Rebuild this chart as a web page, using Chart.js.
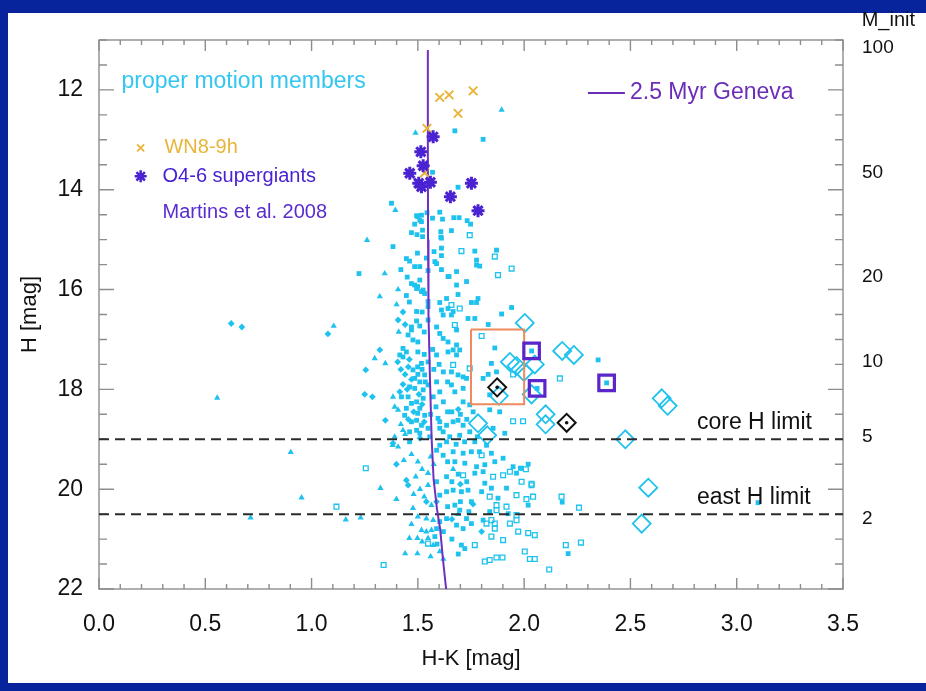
<!DOCTYPE html>
<html>
<head>
<meta charset="utf-8">
<script src="https://cdn.jsdelivr.net/npm/chart.js@4.4.1/dist/chart.umd.min.js"></script>
<style>
html, body { margin: 0; padding: 0; width: 926px; height: 691px; overflow: hidden; background: #07249c; }
#panel { position: absolute; left: 8px; top: 13px; width: 918px; height: 670px; background: #fff; }
#wrap { position: absolute; left: 0; top: 0; width: 926px; height: 691px; }
</style>
</head>
<body>
<div id="panel"></div>
<div id="wrap"><canvas id="cmd" width="926" height="691"></canvas></div>
<script>
// axis ticks
const xTicks = [0, 0.5, 1, 1.5, 2, 2.5, 3, 3.5];
const yTicks = [12, 14, 16, 18, 20, 22];
const massLabels = ['100', '50', '20', '10', '5', '2'];
const massH = [11.15, 13.66, 15.75, 17.45, 18.95, 20.6];

// proper motion members, [H-K, H]
const filledSquares = [
  [1.674,12.82],[1.807,12.99],[1.569,13.65],[1.689,13.95],[1.376,14.27],
  [1.494,14.52],[1.517,14.51],[1.543,14.46],[1.603,14.45],[1.569,14.57],[1.616,14.59],[1.669,14.56],[1.694,14.56],
  [1.732,14.62],[1.748,14.69],[1.485,14.69],[1.517,14.64],[1.47,14.86],[1.522,14.81],[1.608,14.84],[1.608,14.95],
  [1.658,14.82],[1.509,14.61],[1.522,14.94],[1.499,14.54],[1.611,14.97],[1.496,14.9],
  [1.383,15.14],[1.498,15.27],[1.576,15.24],[1.611,15.17],[1.611,15.32],[1.768,15.23],[1.87,15.21],[1.446,15.38],
  [1.776,15.41],[1.776,15.51],[1.791,15.53],[1.485,15.54],[1.548,15.62],[1.588,15.48],[1.611,15.6],[1.647,15.74],
  [1.682,15.64],[1.461,15.43],[1.509,15.54],[1.54,15.37],[1.58,15.44],[1.223,15.68],
  [1.47,15.88],[1.485,15.91],[1.499,15.94],[1.509,15.81],[1.525,16.01],[1.532,16.08],[1.517,16.04],[1.494,15.98],
  [1.446,16.12],[1.642,15.74],[1.729,15.84],[1.682,15.91],[1.689,16.1],[1.783,16.18],[1.752,16.26],[1.776,16.26],
  [1.603,16.26],[1.635,16.18],[1.548,16.24],[1.42,15.6],[1.45,15.75],[1.46,16.25],[1.52,16.45],
  [1.611,16.41],[1.619,16.51],[1.642,16.38],[1.658,16.51],[1.666,16.44],[1.941,16.36],[1.894,16.49],[1.736,16.58],
  [1.768,16.58],[1.831,16.7],[1.682,16.81],[1.494,16.44],[1.494,16.63],[1.509,16.73],[1.47,16.75],[1.454,16.91],
  [1.47,16.81],[1.477,17.01],[1.548,16.34],[1.548,16.61],[1.588,16.75],[1.603,16.88],[1.619,16.98],[1.642,17.05],
  [1.53,16.85],[1.5,17.05],[1.57,17.2],[1.6,17.5],[1.62,17.65],[1.575,17.6],[1.64,17.85],
  [1.588,17.31],[1.642,17.25],[1.43,17.18],[1.446,17.25],[1.415,17.31],[1.43,17.35],[1.477,17.61],[1.499,17.55],
  [1.517,17.48],[1.485,17.78],[1.509,17.85],[1.532,17.71],[1.548,17.45],[1.461,17.95],[1.485,17.98],[1.525,18.01],
  [1.548,17.91],[1.588,17.85],[1.603,18.05],[1.862,17.17],[1.682,17.11],[1.666,17.21],[1.697,17.21],[1.682,17.31],
  [1.846,17.48],[1.87,17.65],[1.831,17.7],[1.689,17.71],[1.713,17.75],[1.729,17.78],[1.807,17.78],[1.658,17.91],
  [1.674,18.05],[1.713,17.98],[1.838,18.11],[1.658,17.65],[2.348,17.41],[2.035,17.23],[2.061,17.98],[2.388,17.87],
  [1.5,17.7],[1.52,17.6],[1.535,17.85],[1.53,17.3],[1.5,17.25],[1.62,18.25],[1.585,18.35],[1.64,18.45],[1.56,18.5],
  [1.423,18.15],[1.454,18.15],[1.572,18.15],[1.446,18.38],[1.47,18.28],[1.494,18.25],[1.509,18.38],[1.525,18.18],
  [1.499,18.48],[1.532,18.52],[1.438,18.52],[1.47,18.65],[1.494,18.62],[1.517,18.72],[1.461,18.85],[1.494,18.82],
  [1.509,18.88],[1.548,18.78],[1.603,18.65],[1.603,18.78],[1.635,18.72],[1.595,18.58],[1.619,18.85],[1.556,18.95],
  [1.713,18.25],[1.744,18.31],[1.838,18.41],[1.666,18.65],[1.689,18.62],[1.713,18.72],[1.744,18.85],[1.854,18.78],
  [1.697,18.92],[1.768,19.05],[1.823,19.12],[1.885,18.45],[1.909,18.88],
  [1.66,18.45],[1.7,18.5],[1.73,18.6],[1.76,18.45],[1.78,18.95],[1.65,18.95],[1.68,19.1],[1.72,19.05],[1.79,19.25],
  [1.461,19.05],[1.603,19.12],[1.635,19.05],[1.588,19.22],[1.619,19.32],[1.666,19.25],[1.713,19.28],[1.752,19.25],
  [1.846,19.28],[1.674,19.45],[1.721,19.48],[1.776,19.55],[1.815,19.51],[1.862,19.45],[1.901,19.38],[1.948,19.55],
  [1.988,19.58],[1.768,19.68],[1.807,19.65],[1.964,19.68],[2.019,19.5],[1.982,19.58],[1.588,19.85],[1.635,19.75],
  [1.64,19.45],[1.69,19.7],[1.73,19.85],[1.66,19.85],[1.7,20.25],[1.64,20.35],[1.74,20.45],
  [1.603,20.12],[1.635,20.05],[1.666,20.02],[1.705,20.05],[1.736,20.02],[1.8,20.05],[1.815,19.88],[1.846,19.98],
  [1.917,19.98],[1.877,20.18],[1.752,20.25],[1.674,20.32],[1.697,20.42],[1.838,20.45],[1.925,20.49],[1.729,20.59],
  [1.807,20.62],[1.752,20.69],[1.682,20.72],[1.713,20.79],[1.603,20.65],[1.635,20.59],[1.588,20.79],[1.58,20.95],
  [1.705,21.12],[1.721,21.19],[2.019,20.32],[2.179,20.26],[2.207,21.29],[3.1,20.27],[1.62,20.85],[1.66,21.0],
  [1.69,21.3],[1.59,21.1]
];
const triangles = [
  [1.894,12.4],[1.489,12.86],[1.394,14.41],[1.261,15.01],[1.344,15.68],[1.321,16.14],[1.407,16.0],[1.104,16.73],
  [1.297,17.38],[1.347,17.48],[0.556,18.17],[1.383,18.15],[1.391,18.95],[0.902,19.26],[1.434,19.42],[0.953,20.17],
  [1.324,19.98],[1.399,20.2],[1.477,20.38],[0.713,20.57],[1.161,20.61],[1.231,20.57],[1.44,21.29],[1.498,21.29],
  [1.46,20.98],[1.498,20.98],[1.391,18.35],[1.407,18.41],[1.43,18.82],[1.381,19.12],[1.407,19.15],[1.548,19.68],
  [1.548,19.92],[1.564,20.32],[1.54,20.59],[1.572,20.62],[1.517,20.82],[1.54,20.85],[1.564,20.82],[1.548,20.98],
  [1.572,21.12],[1.603,21.25],[1.666,19.6],[1.69,20.5],
  [1.47,19.3],[1.5,19.45],[1.52,19.6],[1.49,19.75],[1.51,20.0],[1.53,20.15],[1.48,20.1],[1.56,19.35],[1.575,19.5],
  [1.5,20.55],[1.47,20.7],[1.52,21.05],[1.56,21.35],[1.62,21.4],[1.4,16.3],[1.41,16.85],[1.42,18.7],[1.44,18.9]
];
const smallDiamonds = [
  [0.622,16.68],[0.672,16.75],[1.077,16.89],[1.407,16.61],[1.321,17.21],[1.255,17.61],[1.25,18.1],[1.286,18.15],
  [1.347,18.62],[1.383,19.08],[1.399,19.5],[1.446,19.82],[1.454,19.92],[1.54,20.25],[1.588,20.25],[1.7,19.9],
  [1.76,20.3],[1.66,20.6],[1.8,20.85],[1.69,18.4],
  [1.405,17.45],[1.42,17.6],[1.44,17.7],[1.455,17.55],[1.47,17.8],[1.43,17.9],[1.45,18.0],[1.415,18.05],
  [1.505,18.1],[1.52,18.3],[1.48,18.45],[1.455,18.6],[1.53,18.65],[1.51,18.98],[1.46,17.4],[1.43,16.45],
  [1.44,16.7]
];
const openSquares = [
  [1.744,14.91],[1.705,15.23],[1.862,15.34],[1.941,15.58],[1.877,15.71],[1.697,16.38],[1.658,16.31],[1.674,16.71],
  [1.8,16.93],[1.666,17.51],[1.744,17.58],[1.948,17.7],[2.168,17.78],[1.255,19.58],[1.117,20.35],[1.339,21.52],
  [1.548,21.09],[1.948,18.64],[1.995,18.64],[1.8,19.32],[1.713,19.72],[1.854,19.75],[1.901,19.72],[1.933,19.65],
  [1.988,19.85],[2.035,19.92],[1.838,20.15],[1.964,20.12],[2.011,20.2],[1.87,20.32],[1.917,20.35],[1.87,20.42],
  [1.964,20.52],[1.846,20.62],[1.823,20.69],[1.862,20.69],[1.862,20.79],[1.933,20.69],[1.964,20.62],[1.972,20.85],
  [2.019,20.88],[2.05,20.92],[1.846,20.95],[1.901,21.02],[1.768,21.12],[2.003,21.25],[2.027,21.4],[2.05,21.4],
  [1.815,21.45],[1.838,21.42],[1.87,21.37],[1.898,21.37],[2.118,21.61],[2.176,20.15],[2.258,20.37],[2.196,21.12],
  [2.267,21.07],[2.042,20.15],[2.035,19.89],[2.008,19.6]
];
// highlighted sources
const bigDiamonds = [
  [2.003,16.67],[2.179,17.23],[2.234,17.31],[1.933,17.45],[1.964,17.53],[2.05,17.5],[1.999,17.65],[1.881,18.13],
  [2.035,18.1],[2.647,18.18],[2.675,18.33],[2.101,18.5],[2.101,18.7],[1.783,18.68],[1.826,18.92],[2.476,19.0],
  [2.584,19.97],[2.553,20.69]
];
const purpleSquares = [[2.035,17.23],[2.061,17.98],[2.388,17.87]];
const blackDiamonds = [[1.873,17.96],[2.2,18.67]];
const wnStars = [[1.603,12.15],[1.647,12.10],[1.76,12.02],[1.689,12.47],[1.543,12.77],[1.532,13.66]];
const oSupergiants = [
  [1.572,12.94],[1.514,13.24],[1.525,13.52],[1.462,13.67],[1.504,13.87],[1.517,13.94],[1.559,13.85],
  [1.752,13.87],[1.653,14.14],[1.783,14.42]
];
// 2.5 Myr Geneva isochrone
const isoHK = [1.547, 1.547, 1.548, 1.55, 1.557, 1.565, 1.574, 1.59, 1.605, 1.618, 1.633];
const isoH = [11.2, 13.0, 15.0, 16.5, 17.8, 19.0, 19.8, 20.4, 20.8, 21.4, 22.0];
const limitH = [19.0, 20.5];
const boxHK = [1.75, 2.0];
const boxH = [16.8, 18.3];

const cyan = '#1ec2ee';
const narrow = '"Liberation Sans Narrow", "Liberation Sans", Arial, sans-serif';
const sans = '"Liberation Sans", Arial, sans-serif';
const toXY = arr => arr.map(p => ({ x: p[0], y: p[1] }));

function pts(data, style, r, fill, border, bw, order) {
  return {
    data: toXY(data), pointStyle: style, pointRadius: r, pointBackgroundColor: fill,
    pointBorderColor: border, pointBorderWidth: bw, order: order, showLine: false
  };
}
function line(data, color, width, dash, order) {
  return {
    data: data, showLine: true, borderColor: color, borderWidth: width, borderDash: dash,
    pointRadius: 0, fill: false, tension: 0, order: order
  };
}

const framePlugin = {
  id: 'frame',
  beforeDatasetsDraw(chart) {
    const { ctx, chartArea: a, scales: { x, y } } = chart;
    ctx.save();
    ctx.strokeStyle = '#8d8d8d';
    ctx.lineWidth = 1.4;
    ctx.strokeRect(a.left, a.top, a.right - a.left, a.bottom - a.top);
    ctx.beginPath();
    for (let i = 0; i <= 35; i++) {
      const px = x.getPixelForValue(i / 10);
      const len = i % 5 === 0 ? 11 : 5;
      ctx.moveTo(px, a.bottom); ctx.lineTo(px, a.bottom - len);
      ctx.moveTo(px, a.top); ctx.lineTo(px, a.top + len);
    }
    for (let i = 22; i <= 44; i++) {
      const py = y.getPixelForValue(i / 2);
      const len = i % 4 === 0 ? 15 : 8;
      ctx.moveTo(a.left, py); ctx.lineTo(a.left + len, py);
      ctx.moveTo(a.right, py); ctx.lineTo(a.right - len, py);
    }
    ctx.stroke();
    ctx.restore();
  }
};

const textPlugin = {
  id: 'labels',
  afterDatasetsDraw(chart) {
    const { ctx, scales: { x, y } } = chart;
    const put = (txt, hk, h, color, font) => {
      ctx.fillStyle = color;
      ctx.font = font;
      ctx.textAlign = 'left';
      ctx.textBaseline = 'middle';
      ctx.fillText(txt, x.getPixelForValue(hk), y.getPixelForValue(h));
    };
    ctx.save();
    put('proper motion members', 0.106, 11.84, '#33c6f0', '23px ' + sans);
    put('WN8-9h', 0.308, 13.16, '#e8b53a', '20px ' + sans);
    put('O4-6 supergiants', 0.299, 13.73, '#4a22d2', '20px ' + sans);
    put('Martins et al. 2008', 0.299, 14.45, '#5a2ccf', '20px ' + sans);
    put('2.5 Myr Geneva', 2.498, 12.06, '#6b2db8', '23px ' + sans);
    put('core H limit', 2.813, 18.66, '#111', '23px ' + sans);
    put('east H limit', 2.813, 20.16, '#111', '23px ' + sans);
    put('M_init', 3.588, 10.6, '#111', '20px ' + sans);
    // legend symbols
    const H = Chart.helpers;
    ctx.strokeStyle = '#e8b53a'; ctx.fillStyle = '#e8b53a'; ctx.lineWidth = 1.8;
    H.drawPoint(ctx, { pointStyle: 'crossRot', radius: 5, borderWidth: 1.8, rotation: 0 },
      x.getPixelForValue(0.196), y.getPixelForValue(13.16));
    ctx.strokeStyle = '#4a22d2'; ctx.fillStyle = '#4a22d2'; ctx.lineWidth = 2.5;
    H.drawPoint(ctx, { pointStyle: 'star', radius: 6, borderWidth: 2.5, rotation: 0 },
      x.getPixelForValue(0.196), y.getPixelForValue(13.73));
    ctx.strokeStyle = '#6b2db8'; ctx.lineWidth = 2;
    ctx.beginPath();
    ctx.moveTo(x.getPixelForValue(2.30), y.getPixelForValue(12.06));
    ctx.lineTo(x.getPixelForValue(2.474), y.getPixelForValue(12.06));
    ctx.stroke();
    ctx.restore();
  }
};

const boxData = [
  { x: boxHK[0], y: boxH[0] }, { x: boxHK[1], y: boxH[0] }, { x: boxHK[1], y: boxH[1] },
  { x: boxHK[0], y: boxH[1] }, { x: boxHK[0], y: boxH[0] }
];

new Chart(document.getElementById('cmd'), {
  type: 'scatter',
  data: {
    datasets: [
      pts(oSupergiants, 'star', 6.5, '#4a22d2', '#4a22d2', 3, 1),
      pts(wnStars, 'crossRot', 6, '#e8b53a', '#e8b53a', 2, 2),
      pts(blackDiamonds, 'circle', 1.8, '#111', '#111', 0, 3),
      pts(blackDiamonds, 'rectRot', 9, 'rgba(0,0,0,0)', '#111', 2, 3),
      pts(purpleSquares, 'rect', 11, 'rgba(0,0,0,0)', '#5a26cc', 3.2, 4),
      line(isoHK.map((v, i) => ({ x: v, y: isoH[i] })), '#6f2fc2', 2, [], 5),
      line([{ x: 0, y: limitH[0] }, { x: 3.5, y: limitH[0] }], '#2b2b2b', 2, [10, 6], 6),
      line([{ x: 0, y: limitH[1] }, { x: 3.5, y: limitH[1] }], '#2b2b2b', 2, [10, 6], 6),
      line(boxData, '#ee8a5e', 2, [], 7),
      pts(bigDiamonds, 'rectRot', 9, 'rgba(0,0,0,0)', cyan, 1.8, 8),
      pts(filledSquares, 'rect', 3.4, cyan, cyan, 0, 10),
      pts(triangles, 'triangle', 3.6, cyan, cyan, 0, 10),
      pts(smallDiamonds, 'rectRot', 3.4, cyan, cyan, 0, 10),
      pts(openSquares, 'rect', 3.4, 'rgba(0,0,0,0)', cyan, 1.3, 10)
    ]
  },
  options: {
    responsive: false,
    animation: false,
    devicePixelRatio: 1,
    layout: { padding: { top: 40, left: 0, right: 0, bottom: 0 } },
    plugins: { legend: { display: false }, tooltip: { enabled: false } },
    scales: {
      x: {
        type: 'linear', position: 'bottom', min: 0, max: 3.5,
        afterBuildTicks: s => { s.ticks = xTicks.map(v => ({ value: v })); },
        afterFit: s => { s.height = 102; },
        grid: { display: false, drawTicks: false },
        border: { display: false },
        ticks: { padding: 22, color: '#111', font: { family: narrow, size: 23 }, maxRotation: 0, autoSkip: false,
          callback: v => v.toFixed(1) },
        title: { display: true, text: 'H-K [mag]', color: '#111', font: { family: narrow, size: 22 },
          padding: { top: 0, bottom: 19 } }
      },
      y: {
        type: 'linear', position: 'left', min: 11, max: 22, reverse: true,
        afterBuildTicks: s => { s.ticks = yTicks.map(v => ({ value: v })); },
        afterFit: s => { s.width = 99; },
        grid: { display: false, drawTicks: false },
        border: { display: false },
        ticks: { padding: 16, color: '#111', font: { family: narrow, size: 23 }, autoSkip: false },
        title: { display: true, text: 'H [mag]', color: '#111', font: { family: narrow, size: 22 },
          padding: { top: 17, bottom: 0 } }
      },
      m: {
        type: 'linear', position: 'right', min: 11, max: 22, reverse: true,
        afterBuildTicks: s => { s.ticks = massH.map(v => ({ value: v })); },
        afterFit: s => { s.width = 83; },
        grid: { display: false, drawTicks: false },
        border: { display: false },
        ticks: { padding: 19, color: '#111', font: { family: sans, size: 19 }, autoSkip: false,
          callback: (v, i) => massLabels[i] }
      }
    }
  },
  plugins: [framePlugin, textPlugin]
});
</script>
</body>
</html>
